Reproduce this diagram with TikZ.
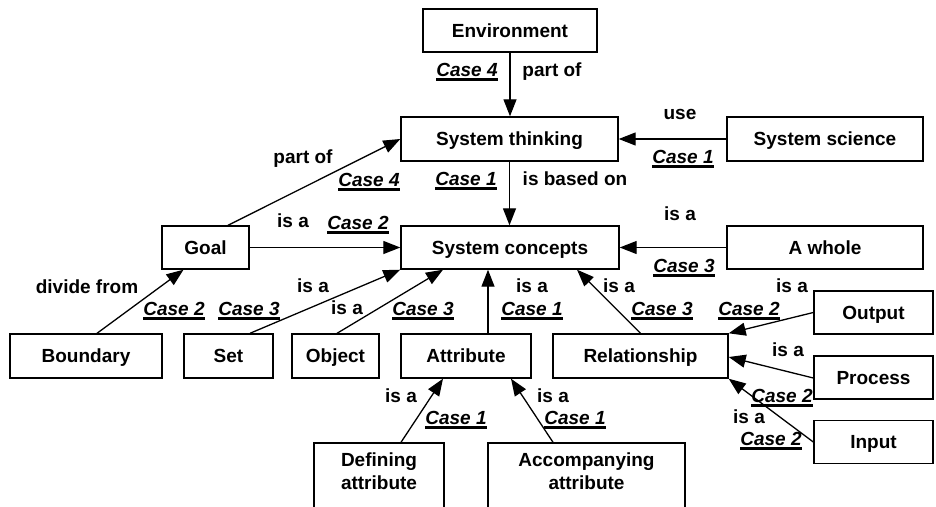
\documentclass[tikz,border=0pt]{standalone}
\usepackage{fontspec}
\setmainfont{Liberation Sans}
\usetikzlibrary{arrows.meta,calc}

% underlined bold italic case tag; the rule is smashed so it does not move the node centre
\newcommand\caselbl[1]{\setbox0=\hbox{\itshape #1}\rlap{\smash{\rule[-4pt]{\wd0}{2.4pt}}}\box0}

\begin{document}
\begin{tikzpicture}[x=1pt,y=-1pt,
  every node/.style={font=\fontsize{19}{23}\selectfont\bfseries, inner sep=0pt},
  concept/.style={draw, line width=1.4pt, minimum height=43pt, text height=13.6pt, text depth=0pt},
  tallbox/.style={draw, line width=1.4pt, minimum height=80pt},
  lbl/.style={text height=13.6pt, text depth=0pt},
  tag/.style={text height=13.6pt, text depth=0pt},
  link/.style={line width=1.3pt, -{Triangle[length=17pt,width=13pt]}}
]
\useasboundingbox (0,0) rectangle (936,506);
\clip (0,0) rectangle (936,506);

% concept boxes
\node[concept, minimum width=174pt] (env) at (510,30.5) {Environment};
\node[concept, minimum width=217pt, minimum height=44pt] (st) at (509.5,139) {System thinking};
\node[concept, minimum width=196pt, minimum height=44pt] (ss) at (825,139) {System science};
\node[concept, minimum width=218pt] (sc) at (510,247.5) {System concepts};
\node[concept, minimum width=196pt] (whole) at (825,247.5) {A whole};
\node[concept, minimum width=87pt] (goal) at (205.5,247.5) {Goal};
\node[concept, minimum width=152pt, minimum height=44pt] (boundary) at (86,356) {Boundary};
\node[concept, minimum width=89pt, minimum height=44pt] (set) at (228.5,356) {Set};
\node[concept, minimum width=87pt, minimum height=44pt] (object) at (335.5,356) {Object};
\node[concept, minimum width=130pt, minimum height=44pt] (attribute) at (466,356) {Attribute};
\node[concept, minimum width=175pt, minimum height=44pt] (relationship) at (640.5,356) {Relationship};
\node[concept, minimum width=119pt] (output) at (873.5,312.5) {Output};
\node[concept, minimum width=119pt] (process) at (873.5,377.5) {Process};
\node[concept, minimum width=119pt] (input) at (873.5,442) {Input};

% two-line boxes running off the lower edge
\node[tallbox, minimum width=130pt] (defining) at (379,483) {};
\node[align=center] (definingtext) at (379,471) {Defining\\attribute};
\node[tallbox, minimum width=197pt] (accomp) at (586.5,483) {};
\node[align=center] (accomptext) at (586.5,471) {Accompanying\\attribute};

% connectors
\draw[link] (env.south) -- (env.south |- st.north);
\draw[link] (ss.west) -- (st.east);
\draw[link] (st.south) -- (st.south |- sc.north);
\draw[link] ([xshift=22.5pt]goal.north) -- (st.west);
\draw[link] (goal.east) -- (sc.west);
\draw[link] ([xshift=11pt]boundary.north) -- ([xshift=-22pt]goal.south);
\draw[link] ([xshift=21.5pt]set.north) -- (sc.south west);
\draw[link] ([xshift=1.5pt]object.north) -- ([xshift=-67pt]sc.south);
\draw[link] ([xshift=22pt]attribute.north) -- ([xshift=22pt]attribute.north |- sc.south);
\draw[link] (relationship.north) -- ([xshift=67pt]sc.south);
\draw[link] (whole.west) -- (sc.east);
\draw[link] (output.west) -- (relationship.north east);
\draw[link] ([yshift=-0.5pt]process.west) -- ([yshift=-1pt]relationship.east);
\draw[link] (input.west) -- (relationship.south east);
\draw[link] ([xshift=22pt]defining.north) -- ([xshift=-23pt]attribute.south);
\draw[link] ([xshift=-33.5pt]accomp.north) -- ([xshift=45pt]attribute.south);

% connector labels
\node[tag] (c1) at (467,70) {\caselbl{Case 4}};
\node[lbl] (l1) at (552,70) {part of};
\node[lbl] (l2) at (680,113) {use};
\node[tag] (c2) at (683,157) {\caselbl{Case 1}};
\node[lbl] (l3) at (303,157) {part of};
\node[tag] (c3) at (369,180) {\caselbl{Case 4}};
\node[tag] (c4) at (466,179) {\caselbl{Case 1}};
\node[lbl] (l4) at (575,179) {is based on};
\node[lbl] (l5) at (293,221) {is a};
\node[tag] (c5) at (358,223) {\caselbl{Case 2}};
\node[lbl] (l6) at (680,214) {is a};
\node[tag] (c6) at (684,266) {\caselbl{Case 3}};
\node[lbl] (l7) at (87,287) {divide from};
\node[tag] (c7) at (174,309) {\caselbl{Case 2}};
\node[tag] (c8) at (249,309) {\caselbl{Case 3}};
\node[lbl] (l8) at (313,286) {is a};
\node[lbl] (l9) at (347,308) {is a};
\node[tag] (c9) at (423,309) {\caselbl{Case 3}};
\node[lbl] (l10) at (532,286) {is a};
\node[tag] (c10) at (532,309) {\caselbl{Case 1}};
\node[lbl] (l11) at (619,286) {is a};
\node[tag] (c11) at (662,309) {\caselbl{Case 3}};
\node[lbl] (l12) at (792,286) {is a};
\node[tag] (c12) at (749,309) {\caselbl{Case 2}};
\node[lbl] (l13) at (788,350) {is a};
\node[tag] (c13) at (782,396) {\caselbl{Case 2}};
\node[lbl] (l14) at (749,417) {is a};
\node[tag] (c14) at (771,439) {\caselbl{Case 2}};
\node[lbl] (l15) at (401,396) {is a};
\node[tag] (c15) at (456,418) {\caselbl{Case 1}};
\node[lbl] (l16) at (553,396) {is a};
\node[tag] (c16) at (575,418) {\caselbl{Case 1}};
\end{tikzpicture}
\end{document}
